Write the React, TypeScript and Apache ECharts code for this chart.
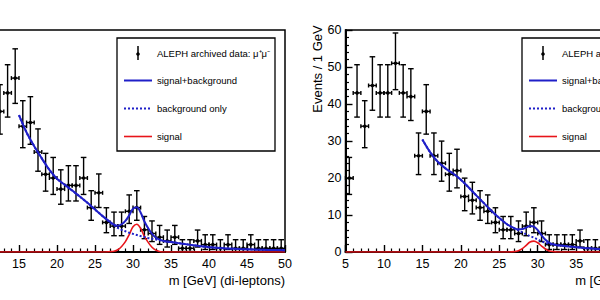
import React, { useEffect, useRef } from "react";
import * as echarts from "echarts";

// ---------- data ----------
const LEFT_BIN_CENTERS = [11.5, 12.5, 13.5, 14.5, 15.5, 16.5, 17.5, 18.5, 19.5, 20.5, 21.5, 22.5, 23.5, 24.5, 25.5, 26.5, 27.5, 28.5, 29.5, 30.5, 31.5, 32.5, 33.5, 34.5, 35.5, 36.5, 37.5, 38.5, 39.5, 40.5, 41.5, 42.5, 43.5, 44.5, 45.5, 46.5, 47.5, 48.5, 49.5];
const LEFT_COUNTS = [32, 38, 43, 47, 34, 35, 27, 21, 20, 17, 18, 18, 20, 12, 16, 8, 7, 7, 11, 12, 6, 5, 4, 3, 4, 1, 1, 3, 2, 2, 1, 2, 1, 1, 2, 1, 1, 1, 1];

const RIGHT_BIN_CENTERS = [5.5, 6.5, 7.5, 8.5, 9.5, 10.5, 11.5, 12.5, 13.5, 14.5, 15.5, 16.5, 17.5, 18.5, 19.5, 20.5, 21.5, 22.5, 23.5, 24.5, 25.5, 26.5, 27.5, 28.5, 29.5, 30.5, 31.5, 32.5, 33.5, 34.5, 35.5, 36.5, 37.5];
const RIGHT_COUNTS = [20, 43, 34, 45, 43, 43, 51, 43, 42, 26, 38, 26, 24, 21, 22, 15, 14, 12, 11, 8, 6, 6, 5, 7, 8, 5, 2, 2, 2, 2, 3, 1, 1];

const CURVE_X = [15, 16, 17, 18, 19, 20, 21, 22, 23, 24, 25, 26, 27, 27.5, 28, 28.5, 29, 29.5, 30, 30.5, 31, 31.5, 32, 32.5, 33, 33.5, 34, 35, 36, 37, 38, 39, 40, 42, 44, 46, 48, 50];
const LEFT_BKG = [37, 32.3, 28.6, 25.3, 22.2, 19.8, 18.2, 16.6, 15, 13.3, 11.5, 9.7, 8.0, 7.2, 6.5, 6.0, 5.6, 5.2, 4.9, 4.6, 4.3, 4.05, 3.8, 3.6, 3.4, 3.2, 3.0, 2.7, 2.4, 2.1, 1.8, 1.55, 1.3, 1.0, 0.8, 0.65, 0.55, 0.5];
const LEFT_SIG = [0, 0, 0, 0, 0, 0, 0, 0, 0, 0, 0, 0, 0.1, 0.2, 0.6, 1.5, 2.8, 4.7, 6.8, 7.5, 6.4, 4.2, 2.6, 1.3, 0.5, 0.15, 0, 0, 0, 0, 0, 0, 0, 0, 0, 0, 0, 0];
const RIGHT_BKG = [30.4, 27, 24.4, 22.6, 21.2, 19.5, 17.5, 15.3, 13.2, 11.1, 9.2, 7.5, 6.3, 5.8, 5.3, 4.8, 4.3, 3.9, 3.4, 2.9, 2.5, 2.2, 2.0, 1.85, 1.75, 1.62, 1.5, 1.3, 1.1, 0.95, 0.8, 0.7, 0.6, 0.45, 0.35, 0.27, 0.2, 0.15];
const RIGHT_SIG = [0, 0, 0, 0, 0, 0, 0, 0, 0, 0, 0, 0, 0.1, 0.35, 0.9, 1.8, 2.7, 2.95, 2.5, 1.6, 0.8, 0.3, 0.1, 0, 0, 0, 0, 0, 0, 0, 0, 0, 0, 0, 0, 0, 0, 0];

const X_MIN = 5;
const X_MAX = 50;
const Y_MIN = 0;
const Y_MAX = 60;

const X_TITLE = "m [GeV] (di-leptons)";
const Y_TITLE = "Events / 1 GeV";
const LEFT_LEGEND = ["ALEPH archived data: \u03bc\u207a\u03bc\u207b", "signal+background", "background only", "signal"];
const RIGHT_LEGEND = ["ALEPH archived data: e\u207ae\u207b", "signal+background", "background only", "signal"];

// Poisson (Garwood-like) interval
const errHigh = (n: number) => n + 1 + Math.sqrt(n + 0.75);
const errLow = (n: number) => (n <= 0 ? 0 : Math.max(0, n - Math.sqrt(n - 0.25)));

const FONT = "Liberation Sans, Arial, Helvetica, sans-serif";
const BLUE = "#1f1fc8";
const RED = "#e8141a";

function histData(centers: number[], counts: number[]) {
  return centers.map((c, i) => [c, counts[i], errLow(counts[i]), errHigh(counts[i])]);
}

const renderErr = (params: any, api: any) => {
  const x = api.value(0);
  const y = api.value(1);
  const lo = api.value(2);
  const hi = api.value(3);
  const c = api.coord([x, y]);
  const pLo = api.coord([x, lo]);
  const pHi = api.coord([x, hi]);
  const pL = api.coord([x - 0.5, y]);
  const pR = api.coord([x + 0.5, y]);
  const s = { stroke: "#000", lineWidth: 1.4 };
  const cap = 2.8;
  const hcap = 2;
  return {
    type: "group",
    children: [
      { type: "line", shape: { x1: c[0], y1: pLo[1], x2: c[0], y2: pHi[1] }, style: s },
      { type: "line", shape: { x1: c[0] - cap, y1: pHi[1], x2: c[0] + cap, y2: pHi[1] }, style: s },
      { type: "line", shape: { x1: c[0] - cap, y1: pLo[1], x2: c[0] + cap, y2: pLo[1] }, style: s },
      { type: "line", shape: { x1: pL[0], y1: c[1], x2: pR[0], y2: c[1] }, style: s },
      { type: "line", shape: { x1: pL[0], y1: c[1] - hcap, x2: pL[0], y2: c[1] + hcap }, style: s },
      { type: "line", shape: { x1: pR[0], y1: c[1] - hcap, x2: pR[0], y2: c[1] + hcap }, style: s },
      { type: "circle", shape: { cx: c[0], cy: c[1], r: 1.8 }, style: { fill: "#000" } },
    ],
  };
};

function legendGraphics(x0: number, y0: number, labels: string[]) {
  const rows = [y0 + 15, y0 + 42.5, y0 + 70.5, y0 + 98.5];
  const tx = x0 + 40;
  const ts = { fill: "#000", font: `9.5px ${FONT}`, verticalAlign: "middle", textAlign: "left" };
  return [
    { type: "rect", shape: { x: x0, y: y0, width: 158, height: 113 }, style: { fill: "#fff", stroke: "#000", lineWidth: 1.3 }, z: 10 },
    { type: "line", shape: { x1: x0 + 21, y1: rows[0] - 7, x2: x0 + 21, y2: rows[0] + 7 }, style: { stroke: "#000", lineWidth: 1.5 }, z: 11 },
    { type: "circle", shape: { cx: x0 + 21, cy: rows[0] + 1, r: 1.8 }, style: { fill: "#000" }, z: 11 },
    { type: "text", x: tx, y: rows[0], style: { ...ts, text: labels[0] }, z: 11 },
    { type: "line", shape: { x1: x0 + 7, y1: rows[1], x2: x0 + 35, y2: rows[1] }, style: { stroke: BLUE, lineWidth: 2 }, z: 11 },
    { type: "text", x: tx, y: rows[1], style: { ...ts, text: labels[1] }, z: 11 },
    { type: "line", shape: { x1: x0 + 7, y1: rows[2], x2: x0 + 35, y2: rows[2] }, style: { stroke: BLUE, lineWidth: 2, lineDash: [2, 2] }, z: 11 },
    { type: "text", x: tx, y: rows[2], style: { ...ts, text: labels[2] }, z: 11 },
    { type: "line", shape: { x1: x0 + 7, y1: rows[3], x2: x0 + 35, y2: rows[3] }, style: { stroke: RED, lineWidth: 1.6 }, z: 11 },
    { type: "text", x: tx, y: rows[3], style: { ...ts, text: labels[3] }, z: 11 },
  ];
}

function xAxisCfg(gridIndex: number, minLabel: number, maxLabel: number) {
  return {
    type: "value",
    gridIndex,
    min: X_MIN,
    max: X_MAX,
    interval: 5,
    axisLine: { show: true, onZero: false, lineStyle: { color: "#000", width: 2 } },
    axisTick: { show: true, inside: true, length: 7, lineStyle: { color: "#000", width: 1.4 } },
    minorTick: { show: true, splitNumber: 5, length: 3.5, lineStyle: { color: "#000", width: 1.2 } },
    splitLine: { show: false },
    minorSplitLine: { show: false },
    axisLabel: {
      show: true,
      margin: 5,
      color: "#000",
      fontSize: 12.5,
      fontFamily: FONT,
      showMinLabel: true,
      showMaxLabel: true,
      formatter: (v: number) => (v >= minLabel && v <= maxLabel ? String(v) : ""),
    },
  };
}

function yAxisCfg(gridIndex: number, showLabels: boolean) {
  return {
    type: "value",
    gridIndex,
    min: Y_MIN,
    max: Y_MAX,
    interval: 10,
    axisLine: { show: true, onZero: false, lineStyle: { color: "#000", width: 2 } },
    axisTick: { show: true, inside: true, length: 7, lineStyle: { color: "#000", width: 1.4 } },
    minorTick: { show: true, splitNumber: 5, length: 3.5, lineStyle: { color: "#000", width: 1.2 } },
    splitLine: { show: false },
    minorSplitLine: { show: false },
    axisLabel: {
      show: showLabels,
      margin: 4,
      color: "#000",
      fontSize: 12.5,
      fontFamily: FONT,
      showMinLabel: true,
      showMaxLabel: true,
    },
  };
}

function curveSeries(idx: number, bkg: number[], sig: number[]) {
  const sum = CURVE_X.map((x, i) => [x, bkg[i] + sig[i]]);
  const b = CURVE_X.map((x, i) => [x, bkg[i]]);
  const s = [[X_MIN, 0], ...CURVE_X.map((x, i) => [x, sig[i]])];
  return [
    {
      type: "line", xAxisIndex: idx, yAxisIndex: idx, data: s, showSymbol: false, smooth: 0.35, z: 4,
      lineStyle: { color: RED, width: 1.6 }, silent: true,
    },
    {
      type: "line", xAxisIndex: idx, yAxisIndex: idx, data: b, showSymbol: false, smooth: 0.35, z: 5,
      lineStyle: { color: BLUE, width: 2, type: [2, 2] }, silent: true,
    },
    {
      type: "line", xAxisIndex: idx, yAxisIndex: idx, data: sum, showSymbol: false, smooth: 0.35, z: 6,
      lineStyle: { color: BLUE, width: 2 }, silent: true,
    },
  ];
}

export default function App() {
  const ref = useRef<HTMLDivElement>(null);
  useEffect(() => {
    if (!ref.current) return;
    const chart = echarts.init(ref.current, undefined, { renderer: "svg" });
    const option: any = {
      animation: false,
      backgroundColor: "#fff",
      grid: [
        { left: -57, top: 30, width: 342, height: 222, show: true, borderColor: "#000", borderWidth: 1.5, backgroundColor: "transparent", containLabel: false, outerBoundsMode: "none" },
        { left: 345.5, top: 30, width: 346, height: 222, show: true, borderColor: "#000", borderWidth: 1.5, backgroundColor: "transparent", containLabel: false, outerBoundsMode: "none" },
      ],
      xAxis: [xAxisCfg(0, 15, 50), xAxisCfg(1, 5, 35)],
      yAxis: [yAxisCfg(0, false), yAxisCfg(1, true)],
      series: [
        { type: "custom", xAxisIndex: 0, yAxisIndex: 0, data: histData(LEFT_BIN_CENTERS, LEFT_COUNTS), renderItem: renderErr, encode: { x: 0, y: 1 }, z: 3, silent: true },
        { type: "custom", xAxisIndex: 1, yAxisIndex: 1, data: histData(RIGHT_BIN_CENTERS, RIGHT_COUNTS), renderItem: renderErr, encode: { x: 0, y: 1 }, z: 3, silent: true },
        ...curveSeries(0, LEFT_BKG, LEFT_SIG),
        ...curveSeries(1, RIGHT_BKG, RIGHT_SIG),
      ],
      graphic: [
        ...legendGraphics(117, 38, LEFT_LEGEND),
        ...legendGraphics(522, 38, RIGHT_LEGEND),
        { type: "text", x: 285, y: 280, style: { text: X_TITLE, fill: "#000", font: `13px ${FONT}`, textAlign: "right", verticalAlign: "middle" } },
        { type: "text", x: 691.5, y: 280, style: { text: X_TITLE, fill: "#000", font: `13px ${FONT}`, textAlign: "right", verticalAlign: "middle" } },
        { type: "text", x: 317, y: 69, rotation: Math.PI / 2, style: { text: Y_TITLE, fill: "#000", font: `13px ${FONT}`, textAlign: "center", verticalAlign: "middle" } },
      ],
    };
    chart.setOption(option);
    return () => chart.dispose();
  }, []);
  return <div ref={ref} style={{ position: "fixed", left: 0, top: 0, width: 600, height: 300 }} />;
}
